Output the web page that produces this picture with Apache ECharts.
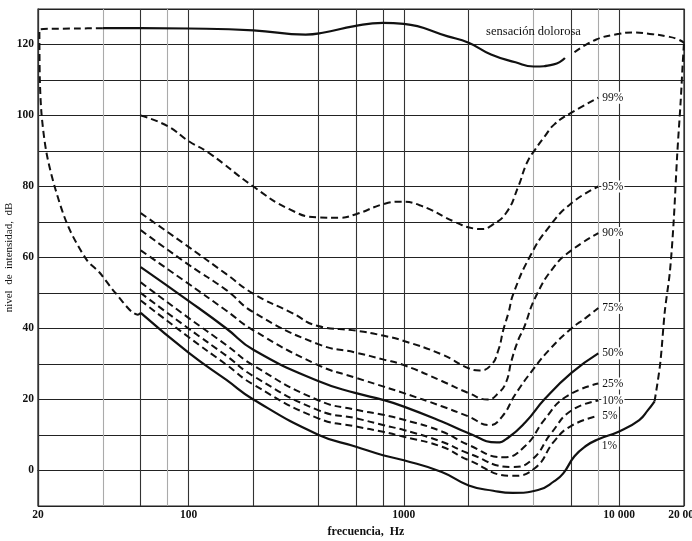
<!DOCTYPE html>
<html>
<head>
<meta charset="utf-8">
<script src="https://cdn.jsdelivr.net/npm/echarts@6/dist/echarts.min.js"></script>
<style>
html,body{margin:0;padding:0;background:#fff;}
#chart{width:692px;height:541px;}
</style>
</head>
<body>
<div id="chart"></div>
<script>
// ---- data (frequency Hz, level dB) ----
const xTickLabels = [20, 100, 1000, 10000, 20000];
const freqGrid = [20, 40, 60, 80, 100, 200, 400, 600, 800, 1000, 2000, 4000, 6000, 8000, 10000, 20000];
const lightGrid = [40, 80, 4000, 8000];

const painTop = [[40,124.6],[60,124.6],[100,124.5],[200,124],[350,122.8],[420,123.3],[590,125.2],[800,126.1],[1000,125.8],[1600,122.3],[2000,120.5],[2540,117.2],[3300,115],[4000,113.8],[4970,114.4],[5600,116.2]];
const painTopRight = [[6200,117.8],[7830,121.4],[10000,123],[11500,123.4],[14300,122.9],[16600,122.3],[18500,121.6],[20000,120.5]];
const envelopeLeft = [[40,124.6],[30,124.5],[20.3,124.2],[20.4,110],[20.8,100],[21.9,89.5],[24,79.6],[27.6,68.8],[33.6,59.4],[38.7,55.7],[45.8,50],[58.2,43.9],[60,44.4]];
const envelopeRight = [[14600,19.5],[15500,30],[16300,45],[17200,56],[17900,70],[18600,89],[19300,104],[19700,114],[20000,120.5]];

const p99 = [[60,100],[80,97],[100,92.8],[124,89.5],[200,80],[294,73.6],[400,71.3],[500,71.2],[600,72.2],[800,75],[960,75.7],[1200,74.6],[1730,70],[2100,68.2],[2300,68],[2550,69],[2990,72.6],[3400,80],[3730,86.7],[4070,90.4],[4520,94.2],[5000,97.5],[6000,100.8],[8000,105]];
const p95 = [[60,72.5],[100,63],[150,55.3],[200,49.8],[300,44.5],[400,40.7],[600,39.4],[800,38],[1000,36.5],[1500,32.7],[2000,28.8],[2250,28.2],[2550,29.8],[2750,34],[2900,39.7],[3060,44.4],[3230,49.9],[3860,60.4],[4680,68.3],[6000,75.3],[8000,80]];
const p90 = [[60,67.7],[100,58],[150,50.8],[200,44.6],[400,35.6],[600,33.2],[800,31.3],[1000,29.7],[1500,25.2],[2000,21.8],[2450,20],[2750,21.8],[2990,25],[3160,30.9],[3410,37],[3600,40],[4100,49],[5000,57.5],[6000,62],[8000,66.9]];
const p75 = [[60,62],[100,52.6],[150,45],[200,39.5],[400,29.7],[600,26.1],[800,23.7],[1000,21.8],[1500,18.1],[2000,15.2],[2500,12.8],[2860,15.2],[3290,21.4],[4000,28.6],[4820,34.5],[6000,40],[7000,43],[8000,45.8]];
const p50 = [[60,57.3],[100,47.8],[150,40],[200,34],[400,25.2],[600,21.8],[800,19.9],[1000,18],[1500,13.8],[2000,10.5],[2700,7.9],[3060,9.3],[3660,13.5],[4520,20.2],[6000,27.5],[8000,33]];
const p25 = [[60,53],[100,43],[150,35.3],[200,29.6],[400,19.8],[600,17.1],[800,15.7],[1000,14.3],[1500,11],[2000,7.2],[2900,3.7],[3660,6.9],[4520,14.5],[5640,20.7],[8000,24.5]];
const p10 = [[60,50],[100,40],[150,32.3],[200,26.6],[400,17],[600,14.7],[800,12.8],[1000,11.4],[1500,8.1],[2000,4.8],[3180,1],[3930,3],[4860,10.7],[6000,16.9],[8000,19.7]];
const p5 = [[60,47.9],[100,37.6],[150,29.8],[200,24.2],[400,14.7],[600,12.4],[800,10.9],[1000,9.5],[1500,6.7],[2000,2.9],[3180,-1.5],[4070,0.7],[5000,8.3],[6000,12.6],[8000,15.4]];
const p1 = [[60,44.4],[100,33.2],[150,25.5],[200,20],[400,10.1],[600,6.7],[800,4.3],[1000,2.9],[1500,-0.4],[2000,-4.2],[2600,-5.7],[3200,-6.3],[4200,-5.5],[5000,-3],[5500,-0.8],[6200,4],[7000,6.9],[8000,8.8],[10000,11],[12400,14.2],[13600,17],[14600,19.5]];

const pctLabels = ['99%','95%','90%','75%','50%','25%','10%','5%'];
const label1 = {text:'1%', coord:[9000, 6.8]};
const painLabel = {text:'sensación dolorosa', coord:[4000, 123.6]};

// ---- chart ----
const FONT = 'Liberation Serif';
const DASH = [7, 4];
const chart = echarts.init(document.getElementById('chart'), null, {renderer:'canvas'});

function lineSeries(data, dashed, extra) {
  return Object.assign({
    type:'line', data:data, showSymbol:false, symbol:'none',
    smooth:0.5, silent:true, z:5,
    lineStyle:{color:'#111', width:dashed?2:2.2, type:dashed?DASH:'solid'}
  }, extra||{});
}
function endLab(t){
  return {endLabel:{show:true, formatter:t, distance:3, color:'#111',
    fontFamily:FONT, fontSize:11.5, backgroundColor:'#fff', padding:[0,1]}};
}
function textPoint(p, bg, size){
  return {symbol:'rect', symbolSize:1, silent:true, itemStyle:{color:'rgba(0,0,0,0)'},
    data:[{coord:p.coord, label:{show:true, formatter:p.text, position:'inside',
      color:'#111', fontFamily:FONT, fontSize:size,
      backgroundColor: bg ? '#fff' : 'transparent', padding:[0,1]}}]};
}

const gridSeries = {
  type:'line', data:[], silent:true, z:1,
  markLine:{silent:true, symbol:['none','none'], label:{show:false}, animation:false,
    data: freqGrid.map(f => ({xAxis:f, lineStyle:{
      color: lightGrid.indexOf(f) >= 0 ? '#aaa' : '#333', width:1.1, type:'solid'}}))}
};

const series = [
  gridSeries,
  lineSeries(painTop, false, {markPoint:textPoint(painLabel, false, 12.5)}),
  lineSeries(painTopRight, true),
  lineSeries(envelopeLeft, true, {smooth:0.3}),
  lineSeries(envelopeRight, true, {smooth:0.3}),
  lineSeries(p99, true, endLab(pctLabels[0])),
  lineSeries(p95, true, endLab(pctLabels[1])),
  lineSeries(p90, true, endLab(pctLabels[2])),
  lineSeries(p75, true, endLab(pctLabels[3])),
  lineSeries(p50, false, endLab(pctLabels[4])),
  lineSeries(p25, true, endLab(pctLabels[5])),
  lineSeries(p10, true, endLab(pctLabels[6])),
  lineSeries(p5, true, endLab(pctLabels[7])),
  lineSeries(p1, false, {markPoint:textPoint(label1, true, 11.5)})
];

chart.setOption({
  animation:false,
  backgroundColor:'#fff',
  grid:{left:38, right:8, top:9, bottom:35, outerBoundsMode:'none', containLabel:false,
    show:true, borderColor:'#222', borderWidth:1.2},
  xAxis:{
    type:'log', logBase:10, min:20, max:20000,
    name:'frecuencia,  Hz', nameLocation:'middle', nameGap:20, nameMoveOverlap:false,
    nameTextStyle:{fontFamily:FONT, fontSize:12, fontWeight:'bold', color:'#111', padding:[0,0,0,10]},
    axisLine:{show:true, lineStyle:{color:'#222', width:1.2}},
    axisTick:{show:false},
    splitLine:{show:false},
    minorSplitLine:{show:false},
    axisLabel:{customValues:xTickLabels, showMinLabel:true, showMaxLabel:true, margin:3,
      fontFamily:FONT, fontSize:11.5, fontWeight:'bold', color:'#111',
      formatter:v => v >= 10000 ? String(v).replace(/(\d)(\d{3})$/, '$1 $2') : String(v)}
  },
  yAxis:{
    type:'value', min:-10, max:130, interval:10,
    name:'nivel  de  intensidad,  dB', nameLocation:'middle', nameGap:23, nameRotate:90, nameMoveOverlap:false,
    nameTextStyle:{fontFamily:FONT, fontSize:11, color:'#111'},
    axisLine:{show:true, lineStyle:{color:'#222', width:1.2}},
    axisTick:{show:false},
    splitLine:{show:true, lineStyle:{color:'#222', width:1.1}},
    axisLabel:{margin:4, fontFamily:FONT, fontSize:11.5, fontWeight:'bold', color:'#111',
      formatter:v => (v >= 0 && v <= 120 && v % 20 === 0) ? String(v) : ''}
  },
  series:series
});
</script>
</body>
</html>
